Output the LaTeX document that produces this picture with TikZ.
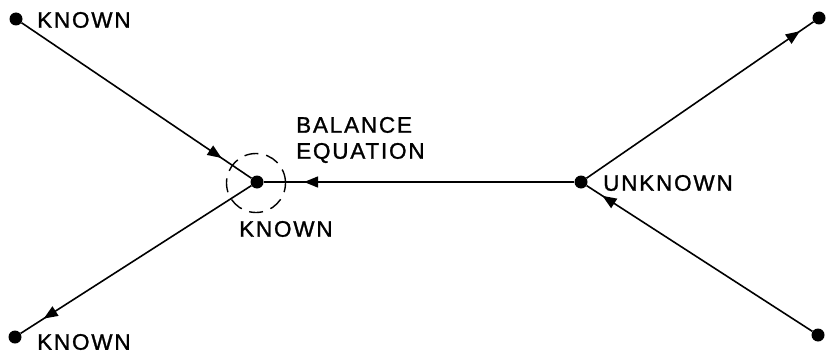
\documentclass[tikz,border=0pt]{standalone}
\usepackage{fontspec}
\setmainfont{Liberation Sans}[LetterSpace=8,FakeBold=1.2]
\usetikzlibrary{arrows.meta,decorations.markings}
\begin{document}
\begin{tikzpicture}[x=1pt,y=-1pt,
  dotnode/.style={circle,fill=black,inner sep=0pt,minimum size=13pt},
  lbl/.style={font=\fontsize{22.5}{26}\selectfont,inner sep=0pt,anchor=west},
  edge/.style={line width=1.6pt},
  markat/.style={postaction={decorate},decoration={markings,
    mark=at position #1 with {\arrow{Triangle[length=14pt,width=11pt]}}}}
]
\useasboundingbox (0,0) rectangle (826,353);
\node[dotnode] (tl) at (16,19) {};
\node[dotnode] (bl) at (15,337) {};
\node[dotnode] (c) at (257,182) {};
\node[dotnode] (r) at (581,182) {};
\node[dotnode] (tr) at (819,18) {};
\node[dotnode] (br) at (818,335) {};
\node[circle,draw,dashed,dash pattern=on 14pt off 8pt,line width=1.4pt,minimum size=59pt] (ring) at (256,183) {};

\draw[edge,markat=0.87] (tl) -- (c);
\draw[edge,markat=0.9] (c) -- (bl);
\draw[edge,markat=0.87] (r) -- (c);
\draw[edge,markat=0.94] (r) -- (tr);
\draw[edge,markat=0.93] (br) -- (r);

\node[lbl] (k1) at (37,20) {KNOWN};
\node[lbl] (k2) at (239,229) {KNOWN};
\node[lbl] (k3) at (37,342) {KNOWN};
\node[lbl] (u) at (603,183) {UNKNOWN};
\node[lbl,align=left] (be) at (296,140) {BALANCE\\EQUATION};
\end{tikzpicture}
\end{document}
